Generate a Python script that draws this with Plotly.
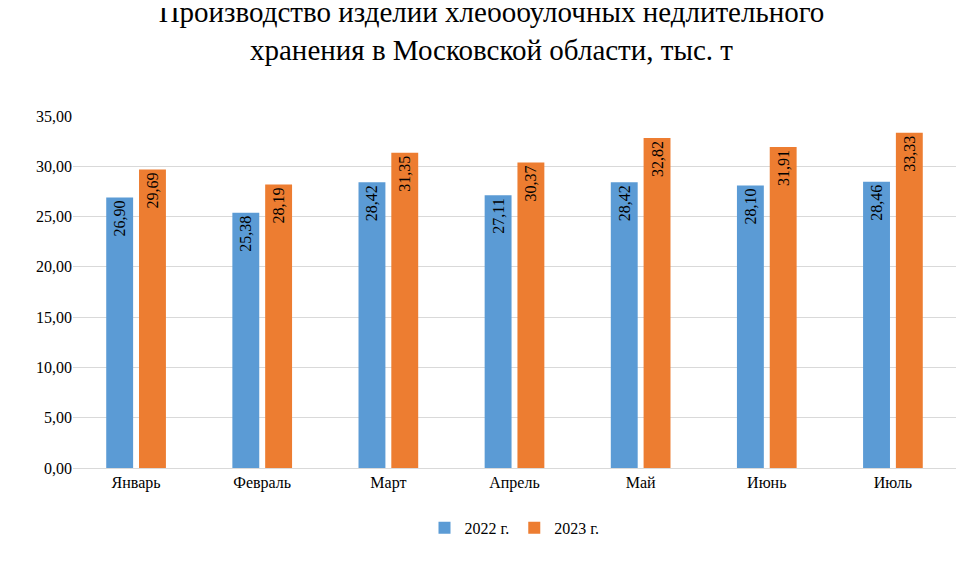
import plotly.graph_objects as go

months = ["Январь", "Февраль", "Март", "Апрель", "Май", "Июнь", "Июль"]
y2022 = [26.90, 25.38, 28.42, 27.11, 28.42, 28.10, 28.46]
y2023 = [29.69, 28.19, 31.35, 30.37, 32.82, 31.91, 33.33]

font = "Liberation Serif"
fig = go.Figure()
for name, vals, col in [("2022 г.", y2022, "#5B9BD5"), ("2023 г.", y2023, "#ED7D31")]:
    fig.add_bar(x=months, y=vals, name=name, marker_color=col, marker_line_width=0,
                texttemplate="%{y:.2f}", textposition="inside", insidetextanchor="end",
                textangle=-90, textfont=dict(family=font, size=16, color="black"))

fig.update_layout(
    width=967, height=563, separators=", ",
    margin=dict(l=65, r=19, t=108, b=103),
    paper_bgcolor="white", plot_bgcolor="white",
    title=dict(text="Производство изделий хлебобулочных недлительного<br>хранения в Московской области, тыс. т",
               x=0.5, xanchor="center", y=0.975, yanchor="top",
               font=dict(family=font, size=29, color="black")),
    font=dict(family=font, size=16, color="black"),
    bargap=0.48, bargroupgap=0.18,
    uniformtext=dict(minsize=10, mode="show"),
    legend=dict(orientation="h", x=0.5, xanchor="center", y=-0.17, yanchor="middle",
                font=dict(family=font, size=16)),
    yaxis=dict(range=[0, 35], dtick=5, tickformat=".2f", gridcolor="#D9D9D9",
               zeroline=False, showline=False, tickfont=dict(family=font, size=16)),
    xaxis=dict(showline=True, linecolor="#D9D9D9", tickfont=dict(family=font, size=16)),
)
fig.write_html("out.html")
